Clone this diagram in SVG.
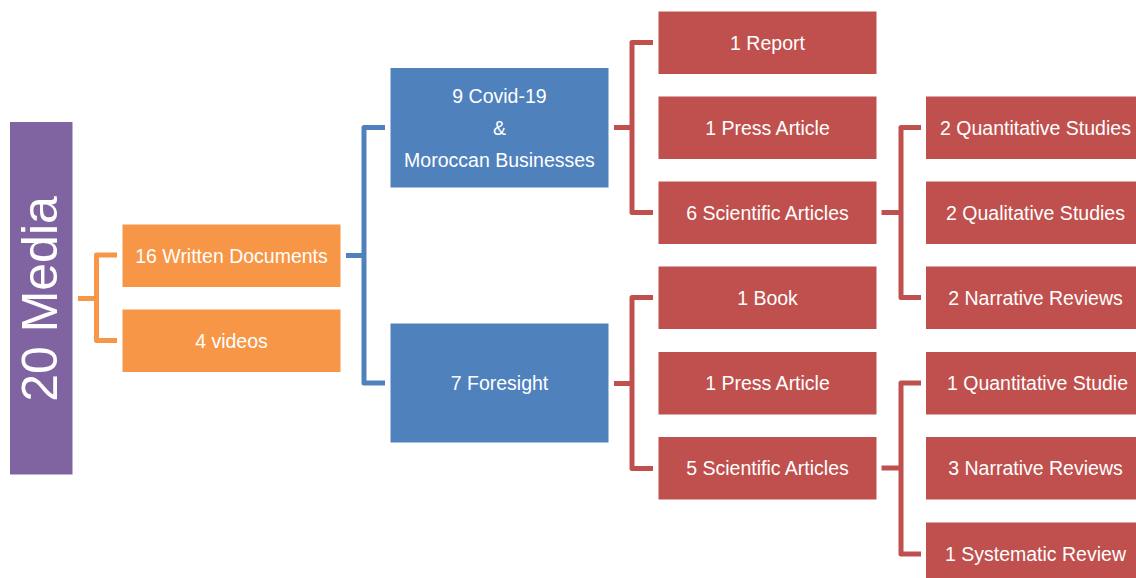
<svg xmlns="http://www.w3.org/2000/svg" width="1136" height="578" viewBox="0 0 1136 578">
<style>
text{font-family:"Liberation Sans",Arial,sans-serif;font-size:19.5px;fill:#fff;text-anchor:middle}
.p{fill:#8064a2}.o{fill:#f79646}.b{fill:#4f81bd}.r{fill:#c0504d}
.c{fill:none;stroke-width:5;stroke-linejoin:round;stroke-linecap:butt}
.co{stroke:#f79646}.cb{stroke:#4f81bd}.cr{stroke:#c0504d}
</style>
<rect width="1136" height="578" fill="#fff"/>
<g id="connectors">
<path class="c co" d="M78,298.5H96.5M117,255H96.5V340.5H117"/>
<path class="c cb" d="M346,255.5H364M385,127.5H364V383H385"/>
<path class="c cr" d="M614,127.5H632M653,42.5H632V212.5H653"/>
<path class="c cr" d="M614,383.5H632M653,297.5H632V468.5H653"/>
<path class="c cr" d="M881.5,212.5H901M921,127.5H901V297.5H921"/>
<path class="c cr" d="M881.5,468H901M921,383H901V554H921"/>
</g>
<g id="media"><rect class="p" x="10" y="122" width="62.5" height="352.5"/><text transform="translate(57,299) rotate(-90)" style="font-size:50px">20 Media</text></g>
<g id="written"><rect class="o" x="122.5" y="224.5" width="218" height="62.5"/><text x="231.5" y="262.5">16 Written Documents</text></g>
<g id="videos"><rect class="o" x="122.5" y="309.5" width="218" height="62.5"/><text x="231.5" y="347.5">4 videos</text></g>
<g id="covid"><rect class="b" x="390.5" y="68" width="218" height="119.5"/><text x="499.5" y="102.5">9 Covid-19</text><text x="499.5" y="134.5">&amp;</text><text x="499.5" y="167">Moroccan Businesses</text></g>
<g id="foresight"><rect class="b" x="390.5" y="323.5" width="218" height="119"/><text x="499.5" y="389.5">7 Foresight</text></g>
<g id="report"><rect class="r" x="658.5" y="11.5" width="218" height="62.5"/><text x="767.5" y="49.5">1 Report</text></g>
<g id="press1"><rect class="r" x="658.5" y="96.5" width="218" height="62.5"/><text x="767.5" y="134.5">1 Press Article</text></g>
<g id="sci1"><rect class="r" x="658.5" y="181.5" width="218" height="62.5"/><text x="767.5" y="219.5">6 Scientific Articles</text></g>
<g id="book"><rect class="r" x="658.5" y="266.5" width="218" height="62.5"/><text x="767.5" y="304.5">1 Book</text></g>
<g id="press2"><rect class="r" x="658.5" y="352" width="218" height="62.5"/><text x="767.5" y="390">1 Press Article</text></g>
<g id="sci2"><rect class="r" x="658.5" y="437" width="218" height="62.5"/><text x="767.5" y="475">5 Scientific Articles</text></g>
<g id="quant2"><rect class="r" x="926" y="96.5" width="218" height="62.5"/><text x="1035.5" y="134.5">2 Quantitative Studies</text></g>
<g id="qual2"><rect class="r" x="926" y="181.5" width="218" height="62.5"/><text x="1035.5" y="219.5">2 Qualitative Studies</text></g>
<g id="narr2"><rect class="r" x="926" y="266.5" width="218" height="62.5"/><text x="1035.5" y="304.5">2 Narrative Reviews</text></g>
<g id="quant1"><rect class="r" x="926" y="352" width="218" height="62.5"/><text x="1037.5" y="390">1 Quantitative Studie</text></g>
<g id="narr3"><rect class="r" x="926" y="437" width="218" height="62.5"/><text x="1035.5" y="475">3 Narrative Reviews</text></g>
<g id="sys1"><rect class="r" x="926" y="522.5" width="218" height="62.5"/><text x="1035.5" y="560.5">1 Systematic Review</text></g>
</svg>
